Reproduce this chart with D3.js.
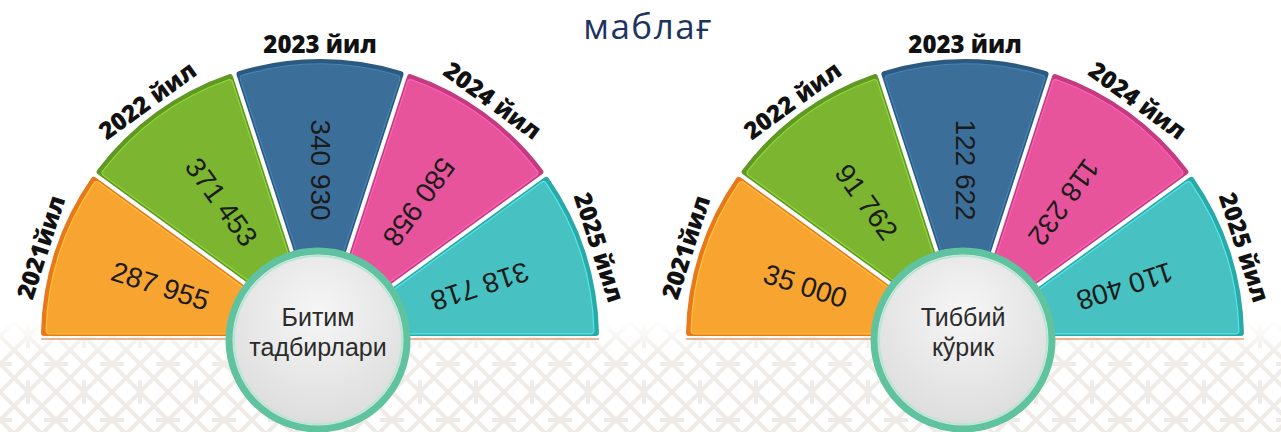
<!DOCTYPE html>
<html>
<head>
<meta charset="utf-8">
<script src="https://cdn.jsdelivr.net/npm/d3@7"></script>
<style>
  body { margin: 0; background: #fff; }
  svg { display: block; }
</style>
</head>
<body>
<script>
// Data
const years = ["2021йил", "2022 йил", "2023 йил", "2024 йил", "2025 йил"];
const bitimValues = [287955, 371453, 340930, 580958, 318718];
const tibbiyValues = [35000, 91762, 122622, 118232, 110408];
const centerBitim = ["Битим", "тадбирлари"];
const centerTibbiy = ["Тиббий", "кўрик"];
const titleText = "маблағ";

// Colours per year: [fill, edge]
const fills = ["#f8a431", "#7cb530", "#3b6f99", "#e8549c", "#47c1c1"];
const edges = ["#e8781c", "#5f9822", "#2b5a80", "#c43b80", "#2aa9a9"];

const W = 1281, H = 432;
const cy = 338, R = 279;

const svg = d3.select("body").append("svg")
  .attr("width", W)
  .attr("height", H);

const defs = svg.append("defs");

// background lattice pattern
const pat = defs.append("pattern")
  .attr("id", "lattice")
  .attr("patternUnits", "userSpaceOnUse")
  .attr("width", 56).attr("height", 56);
pat.append("path")
  .attr("d", "M0,28 L28,0 L56,28 L28,56 Z M0,0 L56,56 M56,0 L0,56 M28,0 L28,12 M28,44 L28,56 M0,28 L12,28 M44,28 L56,28")
  .attr("fill", "none")
  .attr("stroke", "#ece8e3")
  .attr("stroke-width", 4);

const fade = defs.append("linearGradient")
  .attr("id", "fade").attr("x1", 0).attr("y1", 0).attr("x2", 0).attr("y2", 1);
fade.append("stop").attr("offset", "0%").attr("stop-color", "#fff").attr("stop-opacity", 1);
fade.append("stop").attr("offset", "30%").attr("stop-color", "#fff").attr("stop-opacity", 0.25);
fade.append("stop").attr("offset", "100%").attr("stop-color", "#fff").attr("stop-opacity", 0.1);

svg.append("rect").attr("x", 0).attr("y", 320).attr("width", W).attr("height", H - 320)
  .attr("fill", "url(#lattice)");
svg.append("rect").attr("x", 0).attr("y", 320).attr("width", W).attr("height", H - 320)
  .attr("fill", "url(#fade)");

// circle gradient
const cg = defs.append("radialGradient")
  .attr("id", "disc").attr("cx", "50%").attr("cy", "35%").attr("r", "65%");
cg.append("stop").attr("offset", "0%").attr("stop-color", "#f6f6f6");
cg.append("stop").attr("offset", "100%").attr("stop-color", "#dcdcdc");

// title
svg.append("text")
  .attr("x", 648).attr("y", 39)
  .attr("text-anchor", "middle")
  .attr("font-family", "'Open Sans', sans-serif")
  .attr("font-size", 35)
  .attr("letter-spacing", 1.5)
  .attr("fill", "#1d3461")
  .text(titleText);

// angle scale
const angle = d3.scaleBand()
  .domain(years)
  .range([-Math.PI / 2, Math.PI / 2]);

const fmt = d3.formatLocale({ decimal: ".", thousands: " ", grouping: [3], currency: ["", ""] }).format(",");

const outerArc = d3.arc()
  .innerRadius(60)
  .outerRadius(R)
  .padAngle(0.014)
  .padRadius(R)
  .cornerRadius(3);

const innerArc = d3.arc()
  .innerRadius(60)
  .outerRadius(R - 5)
  .padAngle(0.03)
  .padRadius(R)
  .cornerRadius(3);

function drawFan(cx, values, centerLines) {
  const g = svg.append("g").attr("transform", `translate(${cx},${cy})`);
  const rows = years.map((y, i) => ({
    year: y, value: values[i], i: i,
    startAngle: angle(y), endAngle: angle(y) + angle.bandwidth()
  }));

  // base line
  g.append("line")
    .attr("x1", -R).attr("x2", R).attr("y1", 1).attr("y2", 1)
    .attr("stroke", "#d98a55").attr("stroke-width", 2).attr("opacity", 0.6);

  g.selectAll("path.edge").data(rows).join("path")
    .attr("class", "edge")
    .attr("d", outerArc)
    .attr("fill", d => edges[d.i]);

  g.selectAll("path.face").data(rows).join("path")
    .attr("class", "face")
    .attr("d", innerArc)
    .attr("fill", d => fills[d.i])
    .attr("stroke", d => d3.color(fills[d.i]).brighter(0.5))
    .attr("stroke-width", 1.2);

  // value labels, reading toward the centre
  g.selectAll("text.val").data(rows).join("text")
    .attr("class", "val")
    .attr("transform", d => {
      const a = (d.startAngle + d.endAngle) / 2;
      const r = 168;
      const x = r * Math.sin(a), y = -r * Math.cos(a);
      return `translate(${x},${y}) rotate(${a * 180 / Math.PI + 90})`;
    })
    .attr("text-anchor", "middle")
    .attr("dominant-baseline", "central")
    .attr("font-family", "'Liberation Sans', Arial, sans-serif")
    .attr("font-size", 28)
    .attr("fill", "#1b1b1b")
    .text(d => fmt(d.value));

  // year labels along the rim
  g.selectAll("text.year").data(rows).join("text")
    .attr("class", "year")
    .attr("transform", d => {
      const a = (d.startAngle + d.endAngle) / 2;
      const r = 285;
      const x = r * Math.sin(a), y = -r * Math.cos(a);
      return `translate(${x},${y}) rotate(${a * 180 / Math.PI})`;
    })
    .attr("text-anchor", "middle")
    .attr("font-family", "'Open Sans', sans-serif")
    .attr("font-weight", 800)
    .attr("font-size", 24)
    .attr("fill", "#111")
    .text(d => d.year);

  // centre disc
  const c = g.append("g").attr("transform", "translate(-2,2)");
  c.append("circle").attr("r", 89)
    .attr("fill", "url(#disc)")
    .attr("stroke", "#5fc3a0")
    .attr("stroke-width", 7);
  c.append("circle").attr("r", 84)
    .attr("fill", "none")
    .attr("stroke", "#b9e6d4")
    .attr("stroke-width", 2);
  c.selectAll("text").data(centerLines).join("text")
    .attr("x", 0)
    .attr("y", (d, i) => -14 + i * 30)
    .attr("text-anchor", "middle")
    .attr("font-family", "'Liberation Sans', Arial, sans-serif")
    .attr("font-size", 25)
    .attr("fill", "#2b2b2b")
    .text(d => d);
}

drawFan(320, bitimValues, centerBitim);
drawFan(965, tibbiyValues, centerTibbiy);
</script>
</body>
</html>
